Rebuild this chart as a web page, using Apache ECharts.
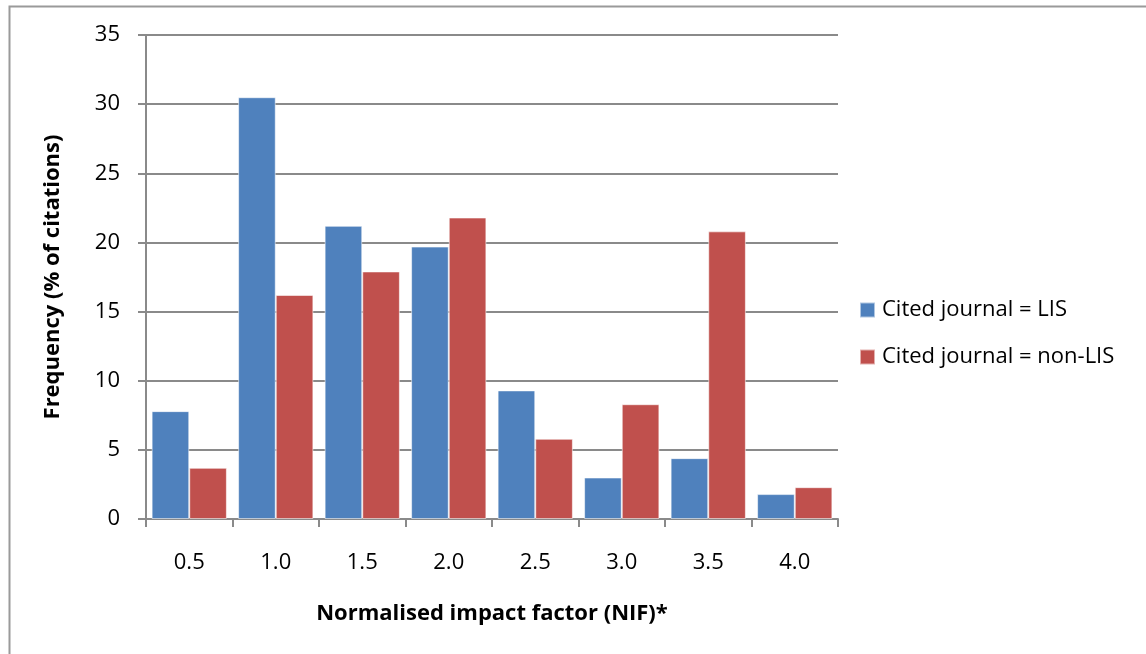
<!DOCTYPE html>
<html>
<head>
<meta charset="utf-8">
<script src="https://cdn.jsdelivr.net/npm/echarts@6/dist/echarts.min.js"></script>
<style>
  html, body { margin: 0; padding: 0; background: #ffffff; }
  #chart { width: 1146px; height: 654px; }
</style>
</head>
<body>
<div id="chart"></div>
<script>
// NIF bins and share of citations (%) per cited-journal group
const categories = ['0.5', '1.0', '1.5', '2.0', '2.5', '3.0', '3.5', '4.0'];
const lisValues = [7.8, 30.5, 21.2, 19.7, 9.3, 3.0, 4.4, 1.8];
const nonLisValues = [3.7, 16.2, 17.9, 21.8, 5.8, 8.3, 20.8, 2.3];
const seriesNames = ['Cited journal = LIS', 'Cited journal = non-LIS'];
const yTicks = [0, 5, 10, 15, 20, 25, 30, 35];

const FONT = '"Open Sans", "Noto Sans", sans-serif';
const GRID_GRAY = '#8a8a8a';

const chart = echarts.init(document.getElementById('chart'), null, { renderer: 'canvas' });

chart.setOption({
  animation: false,
  backgroundColor: '#ffffff',
  textStyle: { fontFamily: FONT },
  graphic: [{
    type: 'rect',
    left: 7,
    top: 4,
    shape: { width: 1160, height: 700 },
    style: { fill: 'none', stroke: '#9a9a9a', lineWidth: 2 },
    silent: true
  }],
  grid: { left: 146, right: 308, top: 35, bottom: 135, containLabel: false },
  legend: {
    orient: 'vertical',
    left: 854,
    top: 294,
    itemWidth: 15,
    itemHeight: 15,
    itemGap: 25,
    icon: 'rect',
    textStyle: { fontFamily: FONT, fontSize: 22, color: '#000000', padding: [0, 0, 0, 2] },
    data: seriesNames
  },
  xAxis: {
    type: 'category',
    data: categories,
    name: 'Normalised impact factor (NIF)*',
    nameLocation: 'middle',
    nameGap: 84,
    nameTextStyle: { fontFamily: FONT, fontSize: 22, fontWeight: 'bold', color: '#000000' },
    axisLine: { lineStyle: { color: GRID_GRAY, width: 2 } },
    axisTick: { show: true, alignWithLabel: false, length: 8, lineStyle: { color: GRID_GRAY, width: 2 } },
    axisLabel: { fontFamily: FONT, fontSize: 22, color: '#000000', margin: 33 }
  },
  yAxis: {
    type: 'value',
    min: yTicks[0],
    max: yTicks[yTicks.length - 1],
    interval: 5,
    name: 'Frequency (% of citations)',
    nameLocation: 'middle',
    nameGap: 82,
    nameRotate: 90,
    nameTextStyle: { fontFamily: FONT, fontSize: 22, fontWeight: 'bold', color: '#000000' },
    axisLine: { show: true, lineStyle: { color: GRID_GRAY, width: 2 } },
    axisTick: { show: true, length: 8, lineStyle: { color: GRID_GRAY, width: 2 } },
    axisLabel: { fontFamily: FONT, fontSize: 22, color: '#000000', margin: 26 },
    splitLine: { show: true, lineStyle: { color: GRID_GRAY, width: 2 } }
  },
  series: [
    {
      name: seriesNames[0],
      type: 'bar',
      data: lisValues,
      barGap: '0%',
      barCategoryGap: '13%',
      itemStyle: { color: '#4f81bd', borderColor: 'rgba(255,255,255,0.55)', borderWidth: 1 }
    },
    {
      name: seriesNames[1],
      type: 'bar',
      data: nonLisValues,
      barGap: '0%',
      barCategoryGap: '13%',
      itemStyle: { color: '#c0504d', borderColor: 'rgba(255,255,255,0.55)', borderWidth: 1 }
    }
  ]
});
</script>
</body>
</html>
